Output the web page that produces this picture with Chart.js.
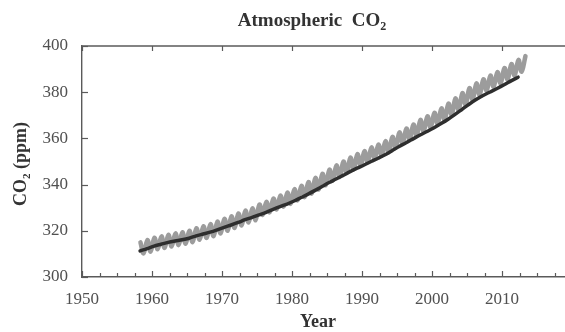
<!DOCTYPE html>
<html>
<head>
<meta charset="utf-8">
<script src="https://cdn.jsdelivr.net/npm/chart.js@4"></script>
<style>
  html,body{margin:0;padding:0;background:#fff;}
  canvas{display:block;}
</style>
</head>
<body>
<canvas id="c" width="565" height="332"></canvas>
<script>
// ---- Data ----
const titleMain = 'Atmospheric  CO';
const titleSub = '2';
const yTitleMain = 'CO';
const yTitleSub = '2';
const yTitleTail = ' (ppm)';
const xTitle = 'Year';

const xTickLabels = ['1950','1960','1970','1980','1990','2000','2010'];
const yTickLabels = ['300','320','340','360','380','400'];

// Smoothed (dark) series: one value per year
const darkYears = [1958,1959,1960,1961,1962,1963,1964,1965,1966,1967,1968,1969,
  1970,1971,1972,1973,1974,1975,1976,1977,1978,1979,1980,1981,1982,1983,1984,
  1985,1986,1987,1988,1989,1990,1991,1992,1993,1994,1995,1996,1997,1998,1999,
  2000,2001,2002,2003,2004,2005,2006,2007,2008,2009,2010,2011,2012];
const darkValues = [311.3,312.3,313.4,314.2,315.0,315.6,316.1,316.8,317.8,318.6,319.4,320.4,
  321.5,322.5,323.6,324.8,325.8,326.9,328.0,329.3,330.5,331.6,332.9,334.4,335.9,337.5,339.2,
  340.9,342.4,344.0,345.6,347.1,348.5,350.0,351.4,352.9,354.7,356.5,358.1,359.8,361.5,363.0,
  364.6,366.4,368.3,370.4,372.6,374.8,376.8,378.6,380.1,381.6,383.2,384.9,386.5];

// Seasonal (grey) series: yearly peak (spring) and trough (autumn)
const grayYears = [1958,1959,1960,1961,1962,1963,1964,1965,1966,1967,1968,1969,
  1970,1971,1972,1973,1974,1975,1976,1977,1978,1979,1980,1981,1982,1983,1984,
  1985,1986,1987,1988,1989,1990,1991,1992,1993,1994,1995,1996,1997,1998,1999,
  2000,2001,2002,2003,2004,2005,2006,2007,2008,2009,2010,2011,2012,2013];
const grayPeaks = [315.0,316.0,317.0,317.6,318.3,318.9,319.4,320.0,321.1,322.0,322.9,324.0,
  325.2,326.3,327.5,328.8,329.7,331.4,332.5,334.0,335.2,336.5,338.0,339.5,341.1,342.9,344.7,
  346.5,348.3,350.0,351.7,353.2,354.5,356.1,357.3,358.8,360.7,362.6,364.3,366.0,368.0,369.6,
  371.1,373.0,375.1,377.3,379.6,381.8,383.8,385.6,387.2,388.7,390.5,392.2,394.0,395.6];
const grayTroughs = [310.2,311.0,312.0,312.6,313.2,313.8,314.4,315.1,316.1,316.9,317.7,318.9,
  320.0,321.2,322.3,323.6,324.6,326.9,328.0,329.3,330.5,331.7,333.2,334.6,336.1,337.9,339.7,
  341.7,343.3,345.0,346.6,348.1,349.8,351.3,352.5,354.0,355.9,357.8,359.5,361.2,363.1,364.7,
  366.3,368.1,370.2,372.3,374.6,376.8,378.8,380.7,382.3,383.8,385.5,387.2,388.9,null];

// ---- Build datasets from the arrays ----
const darkData = darkYears.map((yr, i) => ({x: yr + 0.3, y: darkValues[i]}));
const grayData = [];
grayYears.forEach((yr, i) => {
  grayData.push({x: yr + 0.35, y: grayPeaks[i]});
  if (grayTroughs[i] !== null) grayData.push({x: yr + 0.8, y: grayTroughs[i]});
});

const SERIF = '"Liberation Serif", "DejaVu Serif", serif';
const AXIS = '#5a5a5a';

const decorPlugin = {
  id: 'decor',
  afterDraw(chart) {
    const {ctx, chartArea: a, scales: {x, y}} = chart;
    ctx.save();
    ctx.strokeStyle = AXIS;
    ctx.lineWidth = 1.4;
    // top frame line
    ctx.beginPath(); ctx.moveTo(a.left, a.top); ctx.lineTo(a.right, a.top); ctx.stroke();
    ctx.lineWidth = 1.2;
    // y ticks (inward)
    y.ticks.forEach(t => {
      const py = Math.round(y.getPixelForValue(t.value)) + 0.5;
      ctx.beginPath(); ctx.moveTo(a.left, py); ctx.lineTo(a.left + 6, py); ctx.stroke();
    });
    // x major ticks bottom (inward) and top (inward)
    x.ticks.forEach(t => {
      const px = Math.round(x.getPixelForValue(t.value)) + 0.5;
      ctx.beginPath(); ctx.moveTo(px, a.bottom); ctx.lineTo(px, a.bottom - 6); ctx.stroke();
      ctx.beginPath(); ctx.moveTo(px, a.top); ctx.lineTo(px, a.top + 5); ctx.stroke();
    });
    // x minor ticks every 2.5 years
    for (let v = x.min + 2.5; v < x.max; v += 2.5) {
      if (Math.abs(v % 10) < 1e-6) continue;
      const px = Math.round(x.getPixelForValue(v)) + 0.5;
      ctx.beginPath(); ctx.moveTo(px, a.bottom); ctx.lineTo(px, a.bottom - 4); ctx.stroke();
    }

    // Title with subscript
    ctx.fillStyle = '#333';
    ctx.textBaseline = 'alphabetic';
    ctx.textAlign = 'left';
    const fMain = 'bold 19px ' + SERIF;
    const fSub = 'bold 12px ' + SERIF;
    ctx.font = fMain;
    const w1 = ctx.measureText(titleMain).width;
    ctx.font = fSub;
    const w2 = ctx.measureText(titleSub).width;
    const tx = 312 - (w1 + w2) / 2;
    ctx.font = fMain; ctx.fillText(titleMain, tx, 26);
    ctx.font = fSub; ctx.fillText(titleSub, tx + w1, 30);

    // Y axis title (rotated) with subscript
    const fy = 'bold 18px ' + SERIF;
    const fys = 'bold 11px ' + SERIF;
    ctx.font = fy;
    const a1 = ctx.measureText(yTitleMain).width;
    const a3 = ctx.measureText(yTitleTail).width;
    ctx.font = fys;
    const a2 = ctx.measureText(yTitleSub).width;
    const total = a1 + a2 + a3;
    ctx.save();
    ctx.translate(26, 164);
    ctx.rotate(-Math.PI / 2);
    let sx = -total / 2;
    ctx.font = fy; ctx.fillText(yTitleMain, sx, 0); sx += a1;
    ctx.font = fys; ctx.fillText(yTitleSub, sx, 4); sx += a2;
    ctx.font = fy; ctx.fillText(yTitleTail, sx, 0);
    ctx.restore();

    // X axis title
    ctx.font = 'bold 18px ' + SERIF;
    ctx.textAlign = 'center';
    ctx.fillText(xTitle, 318, 327);
    ctx.restore();
  }
};

new Chart(document.getElementById('c'), {
  type: 'line',
  data: {
    datasets: [
      {
        label: 'trend',
        data: darkData,
        borderColor: '#2e2e2e',
        borderWidth: 3.5,
        pointRadius: 0,
        tension: 0.3,
        borderCapStyle: 'round',
        borderJoinStyle: 'round'
      },
      {
        label: 'monthly',
        data: grayData,
        borderColor: '#9c9c9c',
        borderWidth: 4.5,
        pointRadius: 0,
        tension: 0.4,
        borderCapStyle: 'round',
        borderJoinStyle: 'round'
      }
    ]
  },
  options: {
    responsive: false,
    animation: false,
    devicePixelRatio: 1,
    layout: { padding: { top: 46, left: 0, right: 0, bottom: 0 } },
    plugins: { legend: { display: false }, tooltip: { enabled: false }, title: { display: false } },
    scales: {
      x: {
        type: 'linear',
        min: 1950,
        max: 2019,
        afterFit(scale) { scale.height = 55; },
        grid: { display: true, drawOnChartArea: false, drawTicks: false },
        border: { display: true, color: AXIS, width: 1.4 },
        ticks: {
          stepSize: 10,
          includeBounds: false,
          padding: 12,
          maxRotation: 0,
          autoSkip: false,
          color: '#505050',
          font: { family: SERIF, size: 17 },
          callback: (v) => xTickLabels[Math.round((v - 1950) / 10)]
        }
      },
      y: {
        type: 'linear',
        min: 300,
        max: 400,
        afterFit(scale) { scale.width = 82; },
        grid: { display: true, drawOnChartArea: false, drawTicks: false },
        border: { display: true, color: AXIS, width: 1.4 },
        ticks: {
          stepSize: 20,
          padding: 14,
          color: '#505050',
          font: { family: SERIF, size: 17 },
          callback: (v) => yTickLabels[Math.round((v - 300) / 20)]
        }
      }
    }
  },
  plugins: [decorPlugin]
});
</script>
</body>
</html>
